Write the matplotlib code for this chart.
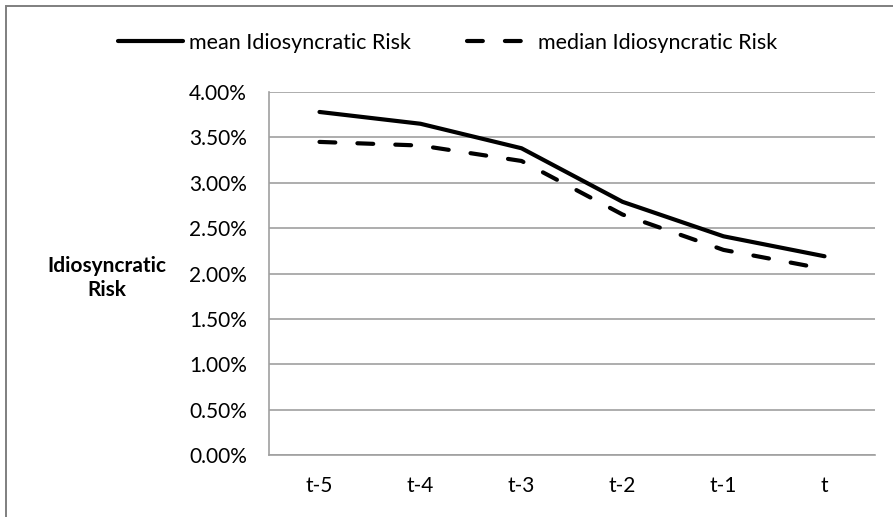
"""Mean vs median idiosyncratic risk over the event window."""

import matplotlib
matplotlib.use("Agg")
import matplotlib.pyplot as plt
from matplotlib.patches import Rectangle
from matplotlib.ticker import FuncFormatter

INK = "#000000"
GRID = "#a0a0a0"
FONT = ["Lato", "DejaVu Sans"]

periods = ["t-5", "t-4", "t-3", "t-2", "t-1", "t"]
mean_risk = [3.78, 3.65, 3.38, 2.79, 2.41, 2.19]
median_risk = [3.45, 3.41, 3.24, 2.65, 2.26, 2.05]
y_ticks = [0.0, 0.5, 1.0, 1.5, 2.0, 2.5, 3.0, 3.5, 4.0]

plt.rcParams["font.family"] = FONT

W, H = 893, 517
fig = plt.figure(figsize=(W / 100, H / 100), dpi=100)
fig.patch.set_facecolor("white")

# outer chart frame (right/bottom edges run off the crop)
fig.patches.append(Rectangle((6 / W, -0.1), 1.2, 1 - 6 / H + 0.1,
                             transform=fig.transFigure, fill=False,
                             edgecolor="#7f7f7f", linewidth=1.4))

ax = fig.add_axes([269 / W, 1 - 455 / H, (875 - 269) / W, (455 - 92) / H])
x = list(range(len(periods)))
ax.plot(x, mean_risk, color=INK, linewidth=3, solid_capstyle="round",
        label="mean Idiosyncratic Risk")
ax.plot(x, median_risk, color=INK, linewidth=3, dashes=(3.8, 5.3),
        dash_capstyle="round", label="median Idiosyncratic Risk")

ax.set_xlim(-0.5, len(periods) - 0.5)
ax.set_ylim(0, 4.0)
ax.set_xticks(x)
ax.set_xticklabels(periods)
ax.set_yticks(y_ticks)
ax.yaxis.set_major_formatter(FuncFormatter(lambda v, _: f"{v:.2f}%"))
ax.tick_params(axis="both", length=0, labelsize=15, colors=INK)
ax.tick_params(axis="x", pad=15)
ax.tick_params(axis="y", pad=16)
ax.yaxis.grid(True, color=GRID, linewidth=1.2)
ax.set_axisbelow(True)
for side in ("top", "right"):
    ax.spines[side].set_visible(False)
for side in ("left", "bottom"):
    ax.spines[side].set_color(GRID)
    ax.spines[side].set_linewidth(1.2)

fig.text(107 / W, 1 - 278 / H, "Idiosyncratic\nRisk", ha="center",
         va="center", fontsize=15, fontweight="bold", color=INK,
         linespacing=1.25)

leg = ax.legend(loc="center left", bbox_to_anchor=(99 / W, 1 - 43 / H),
                bbox_transform=fig.transFigure, ncol=2, frameon=False,
                fontsize=15.5, handlelength=3.0, columnspacing=2.6,
                handletextpad=0.3)

fig.savefig("out.png", dpi=100, facecolor="white")
